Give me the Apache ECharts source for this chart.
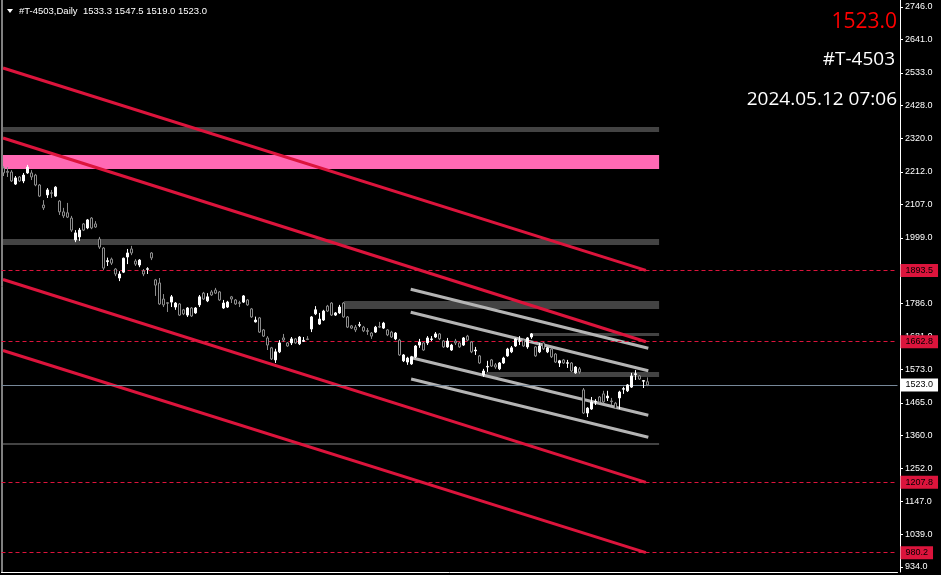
<!DOCTYPE html>
<html><head><meta charset="utf-8">
<script src="https://cdn.jsdelivr.net/npm/echarts@6.0.0/dist/echarts.min.js"></script>
<style>html,body{margin:0;padding:0;background:#000;}#c{width:941px;height:575px;}</style>
</head><body><div id="c"></div>
<script>
const symbolName = '#T-4503';
const timeframe = 'Daily';
const stamp = '2024.05.12 07:06';
const tickValues = [2746, 2641, 2533, 2428, 2320, 2212, 2107, 1999, 1786, 1681, 1573, 1465, 1360, 1252, 1147, 1039, 934];
const levelValues = [1893.5, 1662.8, 1207.8, 980.2];
const lastPrice = 1523.0;
// [open, close, low, high]
const ohlc = [
[2225,2209,2199,2231],[2214,2211,2196,2228],[2212,2183,2180,2218],[2173,2193,2170,2199],[2196,2183,2180,2199],
[2183,2202,2176,2209],[2209,2228,2206,2235],[2209,2196,2186,2218],[2202,2170,2166,2206],[2170,2134,2131,2173],
[2105,2096,2089,2121],[2138,2154,2128,2160],[2145,2143,2128,2154],[2134,2163,2131,2166],[2118,2083,2073,2121],
[2083,2070,2063,2096],[2080,2066,2063,2112],[2063,2024,2018,2070],[1992,2015,1985,2024],[2002,2024,1989,2031],
[2044,2024,2021,2047],[2031,2057,2027,2060],[2063,2031,2027,2066],[2044,2034,2031,2053],[1995,1969,1963,2002],
[1966,1901,1895,1969],[1922,1925,1908,1935],[1930,1917,1911,1935],[1898,1882,1875,1901],[1869,1882,1859,1891],
[1888,1933,1885,1935],[1937,1950,1914,1963],[1963,1950,1943,1973],[1924,1914,1908,1930],[1911,1927,1904,1930],
[1892,1882,1875,1898],[1897,1899,1882,1904],[1950,1934,1927,1953],[1863,1846,1811,1866],[1853,1785,1782,1869],
[1801,1782,1775,1817],[1789,1787,1759,1791],[1791,1808,1775,1814],[1775,1788,1766,1791],[1785,1749,1746,1788],
[1766,1753,1749,1769],[1749,1772,1743,1775],[1772,1746,1743,1775],[1756,1772,1753,1775],[1782,1808,1775,1814],
[1820,1801,1798,1824],[1795,1808,1791,1820],[1824,1814,1811,1830],[1830,1820,1817,1837],[1824,1798,1795,1827],
[1772,1788,1769,1798],[1775,1791,1772,1795],[1808,1801,1788,1811],[1798,1785,1782,1801],[1789,1787,1775,1795],
[1791,1811,1788,1814],[1798,1782,1779,1801],[1769,1743,1740,1772],[1727,1733,1725,1744],[1740,1694,1691,1743],
[1701,1681,1678,1704],[1675,1652,1636,1681],[1643,1607,1604,1646],[1604,1630,1594,1640],[1630,1659,1626,1668],
[1675,1668,1662,1688],[1659,1649,1646,1662],[1659,1672,1652,1678],[1672,1659,1656,1675],[1656,1678,1652,1681],
[1664,1667,1662,1678],[1672,1670,1668,1681],[1704,1743,1694,1746],[1753,1766,1749,1778],[1720,1736,1717,1756],
[1733,1762,1730,1766],[1778,1762,1759,1782],[1788,1749,1746,1791],[1749,1756,1746,1759],[1756,1775,1753,1782],
[1788,1743,1740,1791],[1743,1710,1707,1746],[1714,1707,1704,1717],[1710,1701,1694,1717],[1716,1718,1710,1727],
[1710,1698,1694,1714],[1699,1696,1685,1707],[1691,1681,1672,1694],[1694,1710,1691,1714],[1712,1710,1707,1727],
[1707,1723,1704,1727],[1701,1685,1681,1704],[1694,1678,1675,1698],[1672,1691,1668,1694],[1668,1620,1617,1672],
[1601,1620,1597,1623],[1597,1610,1588,1614],[1591,1614,1588,1617],[1614,1649,1610,1652],[1652,1662,1643,1672],
[1659,1636,1633,1662],[1659,1675,1652,1681],[1670,1672,1665,1681],[1678,1688,1675,1694],[1688,1672,1668,1691],
[1665,1646,1643,1668],[1646,1665,1643,1675],[1636,1652,1633,1656],[1665,1659,1652,1672],[1659,1646,1643,1662],
[1652,1675,1649,1678],[1681,1668,1665,1685],[1662,1630,1626,1665],[1633,1636,1620,1646],[1617,1594,1591,1620],
[1555,1568,1549,1575],[1581,1583,1565,1601],[1604,1584,1581,1607],[1588,1581,1575,1594],[1575,1594,1571,1597],
[1594,1610,1591,1614],[1617,1639,1614,1643],[1630,1643,1626,1649],[1649,1672,1646,1675],[1664,1666,1652,1681],
[1668,1649,1646,1672],[1646,1675,1640,1678],[1678,1688,1672,1691],[1646,1617,1614,1649],[1630,1649,1626,1659],
[1659,1640,1636,1662],[1630,1643,1626,1646],[1639,1614,1610,1643],[1623,1597,1594,1626],[1594,1601,1581,1604],
[1604,1594,1591,1607],[1593,1595,1578,1604],[1594,1568,1565,1597],[1562,1581,1559,1584],[1575,1565,1559,1581],
[1507,1432,1429,1513],[1432,1448,1419,1451],[1445,1468,1442,1484],[1468,1470,1458,1477],[1484,1468,1464,1487],
[1494,1468,1464,1504],[1481,1487,1471,1504],[1471,1469,1458,1481],[1464,1448,1445,1468],[1481,1500,1445,1504],
[1509,1511,1494,1517],[1504,1523,1500,1526],[1516,1552,1513,1562],[1557,1559,1539,1571],[1552,1542,1539,1555],
[1535,1537,1513,1539],[1533.3,1523.0,1519.0,1547.5]
];
const barCount = 224;
const categories = Array.from({length: barCount}, (_, i) => 'D' + (i + 1));
// trend lines in bar-index / price space: [startBar, startPrice, endBar, endPrice]
const redChannel = [
  [-0.125, 2548.6, 160.6, 1893.5],
  [-0.125, 2322.0, 160.6, 1662.8],
  [-0.125, 1864.0, 160.6, 1207.8],
  [-0.125, 1634.4, 160.6, 980.2]
];
const grayChannel = [
  [101.8, 1832.5, 161.2, 1641.6],
  [101.8, 1758.1, 161.2, 1569.0],
  [102.0, 1611.0, 161.2, 1424.7],
  [101.9, 1542.2, 161.2, 1353.5]
];
// zones: [startBar, endBar, topPrice, bottomPrice]
const grayZones = [
  [-0.125, 163.9, 2357.8, 2341.6],
  [-0.125, 163.9, 1995.2, 1975.8],
  [85.1, 163.9, 1794.6, 1768.7],
  [131.6, 163.9, 1691.0, 1681.4],
  [120.6, 163.9, 1564.9, 1548.6],
  [-0.125, 163.9, 1335.4, 1328.9]
];
const pinkZones = [
  [-0.125, 163.9, 2267.0, 2222.0]
];

const RED = '#dc143c';
const chart = echarts.init(document.getElementById('c'), null, {renderer: 'canvas'});
const yMin = 917.6, yMax = 2768.65;
const zoneItem = (z, color) => [{coord: [z[0], z[2]], itemStyle: {color: color, opacity: 1}}, {coord: [z[1], z[3]]}];
const lineSeries = (l, color) => ({
  type: 'line', xAxisIndex: 1, yAxisIndex: 0, data: [[l[0], l[1]], [l[2], l[3]]],
  symbol: 'none', silent: true, z: 3, lineStyle: {color: color, width: 3}
});
const levelLabel = (bg, fg) => ({
  show: true, position: 'end', distance: 3, formatter: p => p.value.toFixed(1),
  backgroundColor: bg, color: fg, fontFamily: 'Liberation Sans', fontSize: 9,
  padding: [2, 5, 1, 5], lineHeight: 10
});

const option = {
  backgroundColor: '#000',
  animation: false,
  grid: {left: 1.5, top: 0, width: 896, bottom: 3, containLabel: false},
  xAxis: [
    {type: 'category', data: categories, boundaryGap: true,
     axisLine: {show: true, onZero: false, lineStyle: {color: '#fff'}}, axisTick: {show: false}, axisLabel: {show: false}, splitLine: {show: false}},
    {type: 'value', min: -0.5, max: barCount - 0.5, show: false, axisLine: {onZero: false}}
  ],
  yAxis: [
    {type: 'value', position: 'right', offset: 2.5, min: yMin, max: yMax,
     axisLine: {show: true, onZero: false, lineStyle: {color: '#fff'}},
     axisTick: {show: true, customValues: tickValues, length: 3, lineStyle: {color: '#fff'}},
     axisLabel: {show: true, customValues: tickValues, color: '#fff', fontFamily: 'Liberation Sans', fontSize: 9, margin: 5,
                 formatter: v => Number(v).toFixed(1)},
     splitLine: {show: false}}
  ],
  graphic: [
    {type: 'line', shape: {x1: 2, y1: 0, x2: 2, y2: 573}, style: {stroke: '#fff', lineWidth: 1}},
    {type: 'polygon', shape: {points: [[7, 9], [13, 9], [10, 13]]}, style: {fill: '#fff'}},
    {type: 'text', x: 19, y: 11, style: {text: symbolName + ',' + timeframe + '  ' + ohlc[ohlc.length - 1][0].toFixed(1) + ' ' +
      ohlc[ohlc.length - 1][3].toFixed(1) + ' ' + ohlc[ohlc.length - 1][2].toFixed(1) + ' ' + ohlc[ohlc.length - 1][1].toFixed(1),
      fill: '#fff', font: '9.5px "Liberation Sans"', textVerticalAlign: 'middle'}},
    {type: 'text', x: 897, y: 22, style: {text: lastPrice.toFixed(1), fill: '#ff0000', font: '21px "Open Sans"', textAlign: 'right', textVerticalAlign: 'middle'}},
    {type: 'text', x: 895, y: 60, style: {text: symbolName, fill: '#fff', font: '19px "Open Sans"', textAlign: 'right', textVerticalAlign: 'middle'}},
    {type: 'text', x: 897, y: 100, style: {text: stamp, fill: '#fff', font: '19px "Open Sans"', textAlign: 'right', textVerticalAlign: 'middle'}}
  ],
  series: [
    {type: 'line', xAxisIndex: 1, yAxisIndex: 0, data: [], silent: true, z: 1,
     markArea: {silent: true, data: grayZones.map(z => zoneItem(z, '#434343')).concat(pinkZones.map(z => zoneItem(z, '#ff69b4')))}},
    ...redChannel.map(l => lineSeries(l, RED)),
    ...grayChannel.map(l => lineSeries(l, '#b4b4b4')),
    {type: 'line', xAxisIndex: 0, yAxisIndex: 0, data: [], silent: true, z: 4,
     markLine: {silent: true, symbol: 'none', animation: false,
       data: levelValues.map(v => ({yAxis: v, lineStyle: {color: RED, width: 1, type: [4, 3]}, label: levelLabel(RED, '#000')}))
         .concat([{yAxis: lastPrice, lineStyle: {color: '#778899', width: 1, type: 'solid'}, label: levelLabel('#fff', '#000')}])}},
    {type: 'candlestick', xAxisIndex: 0, yAxisIndex: 0, data: ohlc, barWidth: 3, z: 5,
     itemStyle: {color: '#fff', color0: '#000', borderColor: '#fff', borderColor0: '#8c8c8c', borderWidth: 1}}
  ]
};
chart.setOption(option);
</script>
</body></html>
